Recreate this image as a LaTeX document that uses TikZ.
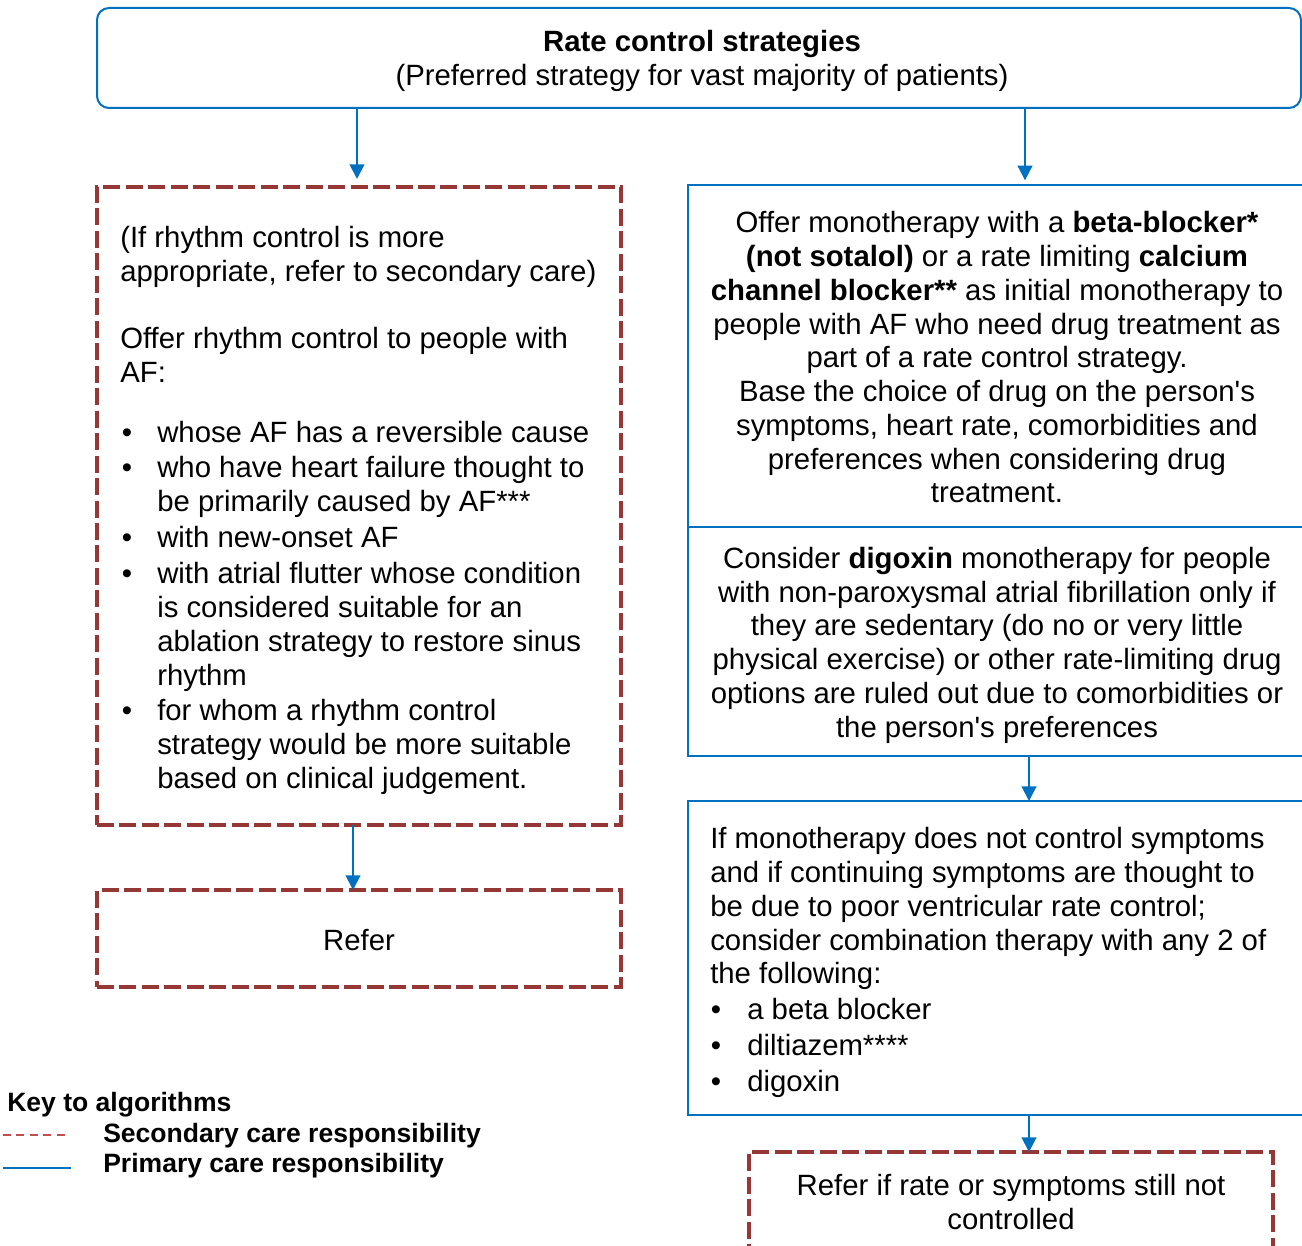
\documentclass[tikz,border=0pt]{standalone}
\usepackage{fontspec}
\setmainfont{Liberation Sans}
\usetikzlibrary{arrows.meta}
\definecolor{nblue}{HTML}{0070C0}
\definecolor{nred}{HTML}{953735}
\definecolor{kred}{HTML}{C0504D}
\newcommand{\apos}{\textquotesingle}
\tikzset{
  bluebox/.style={draw=nblue, line width=1.5pt, inner sep=0pt, outer sep=0pt},
  redbox/.style={draw=nred, line width=3.2pt, dash pattern=on 12.75pt off 4.1pt, inner sep=0pt, outer sep=0pt},
  arr/.style={draw=nblue, line width=1.5pt, -{Triangle[width=11pt,length=11pt]}},
  tl/.style={inner sep=0pt, anchor=base west, font=\fontsize{22}{25.5}\selectfont},
  tc/.style={inner sep=0pt, anchor=base, font=\fontsize{22}{25.5}\selectfont},
  kl/.style={inner sep=0pt, anchor=base west, font=\fontsize{19.9}{23}\selectfont\bfseries},
}
\begin{document}
\begin{tikzpicture}[x=0.75pt,y=-0.75pt]
\useasboundingbox (0,0) rectangle (1302,1245);
% boxes
\node (top) [bluebox, rounded corners=9pt, minimum width=903pt, minimum height=75pt] at (699,58) {};
\node (lbox) [redbox, minimum width=393pt, minimum height=478.5pt] at (359,506) {};
\node (refer) [redbox, minimum width=393pt, minimum height=72.75pt] at (359,938.5) {};
\node (rb1) [bluebox, minimum width=474pt, minimum height=256.5pt] at (1004,356) {};
\node (rb2) [bluebox, minimum width=474pt, minimum height=171.75pt] at (1004,641.5) {};
\node (rb3) [bluebox, minimum width=474pt, minimum height=235.5pt] at (1004,958) {};
\node (rb4) [redbox, minimum width=393pt, minimum height=88.5pt] at (1011,1211) {};
% connectors
\draw[arr, shorten >=6pt] ([xshift=-1.5pt]top.south -| lbox.north) -- ([xshift=-1.5pt]lbox.north);
\draw[arr, shorten >=3.5pt] ([xshift=15.75pt]rb1.north |- top.south) -- ([xshift=15.75pt]rb1.north);
\draw[arr] ([xshift=-4.5pt]lbox.south) -- ([xshift=-4.5pt]refer.north);
\draw[arr] ([xshift=18.75pt]rb2.south) -- ([xshift=18.75pt]rb3.north);
\draw[arr] ([xshift=18.75pt]rb3.south) -- ([xshift=18.75pt]rb3.south |- rb4.north);
% top text
\node (h1) [tc] at (702,52) {\textbf{Rate control strategies}};
\node (h2) [tc] at (702,86) {(Preferred strategy for vast majority of patients)};
% left box text
\node (a1) [tl] at (120,247) {(If rhythm control is more};
\node (a2) [tl] at (120,281) {appropriate, refer to secondary care)};
\node (a3) [tl] at (120,348) {Offer rhythm control to people with};
\node (a4) [tl] at (120,382) {AF:};
\node (ab1) [tc] at (127,442) {\textbullet};
\node (a5) [tl] at (157,442) {whose AF has a reversible cause};
\node (ab2) [tc] at (127,477) {\textbullet};
\node (a6) [tl] at (157,477) {who have heart failure thought to};
\node (a7) [tl] at (157,511) {be primarily caused by AF***};
\node (ab3) [tc] at (127,547) {\textbullet};
\node (a8) [tl] at (157,547) {with new-onset AF};
\node (ab4) [tc] at (127,583) {\textbullet};
\node (a9) [tl] at (157,583) {with atrial flutter whose condition};
\node (a10) [tl] at (157,617) {is considered suitable for an};
\node (a11) [tl] at (157,651) {ablation strategy to restore sinus};
\node (a12) [tl] at (157,685) {rhythm};
\node (ab5) [tc] at (127,720) {\textbullet};
\node (a13) [tl] at (157,720) {for whom a rhythm control};
\node (a14) [tl] at (157,754) {strategy would be more suitable};
\node (a15) [tl] at (157,788) {based on clinical judgement.};
\node (rf) [tc] at (359,950) {Refer};
% right box 1
\node (b1) [tc] at (997,232) {Offer monotherapy with a \textbf{beta-blocker*}};
\node (b2) [tc] at (997,266) {\textbf{(not sotalol)} or a rate limiting \textbf{calcium}};
\node (b3) [tc] at (997,300) {\textbf{channel blocker**} as initial monotherapy to};
\node (b4) [tc] at (997,334) {people with AF who need drug treatment as};
\node (b5) [tc] at (997,367) {part of a rate control strategy.};
\node (b6) [tc] at (997,401) {Base the choice of drug on the person\apos s};
\node (b7) [tc] at (997,435) {symptoms, heart rate, comorbidities and};
\node (b8) [tc] at (997,469) {preferences when considering drug};
\node (b9) [tc] at (997,502) {treatment.};
% right box 2
\node (c1) [tc] at (997,568) {Consider \textbf{digoxin} monotherapy for people};
\node (c2) [tc] at (997,602) {with non-paroxysmal atrial fibrillation only if};
\node (c3) [tc] at (997,635) {they are sedentary (do no or very little};
\node (c4) [tc] at (997,669) {physical exercise) or other rate-limiting drug};
\node (c5) [tc] at (997,703) {options are ruled out due to comorbidities or};
\node (c6) [tc] at (997,737) {the person\apos s preferences};
% right box 3
\node (d1) [tl] at (710,848) {If monotherapy does not control symptoms};
\node (d2) [tl] at (710,882) {and if continuing symptoms are thought to};
\node (d3) [tl] at (710,916) {be due to poor ventricular rate control;};
\node (d4) [tl] at (710,950) {consider combination therapy with any 2 of};
\node (d5) [tl] at (710,983) {the following:};
\node (db1) [tc] at (716,1019) {\textbullet};
\node (d6) [tl] at (747,1019) {a beta blocker};
\node (db2) [tc] at (716,1055) {\textbullet};
\node (d7) [tl] at (747,1055) {diltiazem****};
\node (db3) [tc] at (716,1091) {\textbullet};
\node (d8) [tl] at (747,1091) {digoxin};
% bottom red box
\node (e1) [tc] at (1011,1195) {Refer if rate or symptoms still not};
\node (e2) [tc] at (1011,1229) {controlled};
% key
\node (k0) [kl] at (7,1111) {Key to algorithms};
\coordinate (ks1) at (3,1135);
\coordinate (ks2) at (68,1135);
\draw[kred, line width=1.1pt, dash pattern=on 6pt off 4.1pt] (ks1) -- (ks2);
\node (k1) [kl] at (103,1142) {Secondary care responsibility};
\coordinate (kp1) at (3,1168);
\coordinate (kp2) at (71,1168);
\draw[nblue, line width=2pt] (kp1) -- (kp2);
\node (k2) [kl] at (103,1172) {Primary care responsibility};
\end{tikzpicture}
\end{document}
